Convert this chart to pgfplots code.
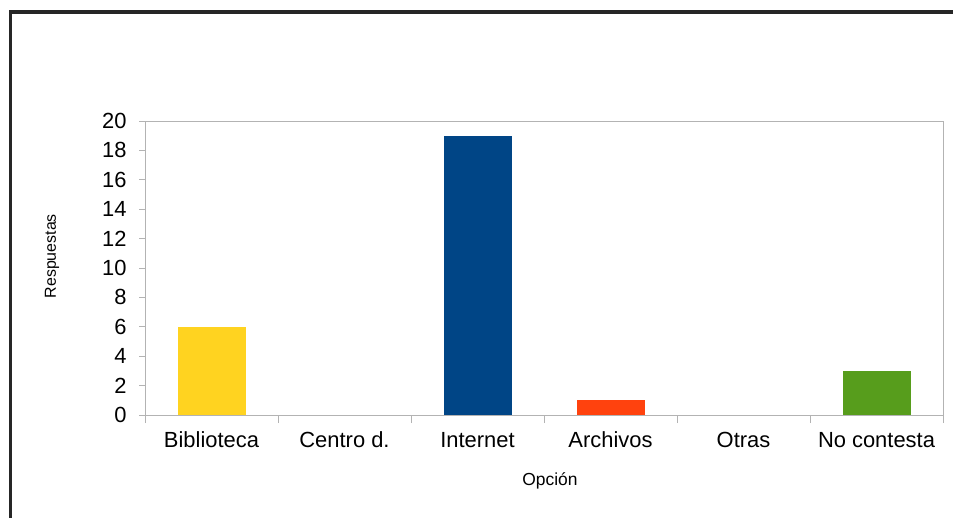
\documentclass[border=0pt]{standalone}
\usepackage{pgfplots}
\pgfplotsset{compat=1.18}
\usepackage{fontspec}
\setmainfont{Liberation Sans}
\definecolor{cyellow}{HTML}{FFD320}
\definecolor{cblue}{HTML}{004586}
\definecolor{corange}{HTML}{FF420E}
\definecolor{cgreen}{HTML}{579D1C}
\definecolor{axgray}{HTML}{B3B3B3}
\begin{document}
\begin{tikzpicture}
\path[use as bounding box] (0,0) rectangle (953bp,518bp);
\draw[line width=3.2bp, color=black!85] (10.8bp,0) -- (10.8bp,506bp) -- (953bp,506bp);
\begin{axis}[
  at={(145bp,103bp)}, anchor=south west,
  scale only axis, width=798bp, height=294bp,
  xmin=-0.5, xmax=5.5, ymin=0, ymax=20,
  ybar, bar width=68bp, bar shift=0pt,
  axis line style={axgray, line width=0.9bp},
  tick align=outside,
  xtick={0,1,2,3,4,5},
  xticklabels={Biblioteca, Centro d., Internet, Archivos, Otras, No contesta},
  minor xtick={-0.5,0.5,1.5,2.5,3.5,4.5,5.5},
  major x tick style={draw=none},
  minor x tick style={axgray, line width=0.9bp},
  minor tick length=8bp,
  ytick={0,2,...,20},
  major tick length=6bp,
  y tick style={axgray, line width=0.9bp},
  xtick pos=bottom, ytick pos=left,
  /pgf/number format/assume math mode=true,
  yticklabel style={font=\fontsize{22}{24}\selectfont, xshift=-9bp},
  xticklabel style={font=\fontsize{22}{24}\selectfont, text height=16bp, text depth=4bp, yshift=-7bp},
  xlabel={Opción}, ylabel={Respuestas},
  xlabel style={font=\fontsize{17.5}{19}\selectfont, at={(rel axis cs:0.5075,-0.225)}, anchor=center},
  ylabel style={font=\fontsize{16}{18}\selectfont, at={(rel axis cs:-0.1165,0.54)}, anchor=center},
  clip=false,
]
\addplot[fill=cyellow, draw=none] coordinates {(0,6)};
\addplot[fill=cblue, draw=none] coordinates {(2,19)};
\addplot[fill=corange, draw=none] coordinates {(3,1)};
\addplot[fill=cgreen, draw=none] coordinates {(5,3)};
\end{axis}
\end{tikzpicture}
\end{document}
